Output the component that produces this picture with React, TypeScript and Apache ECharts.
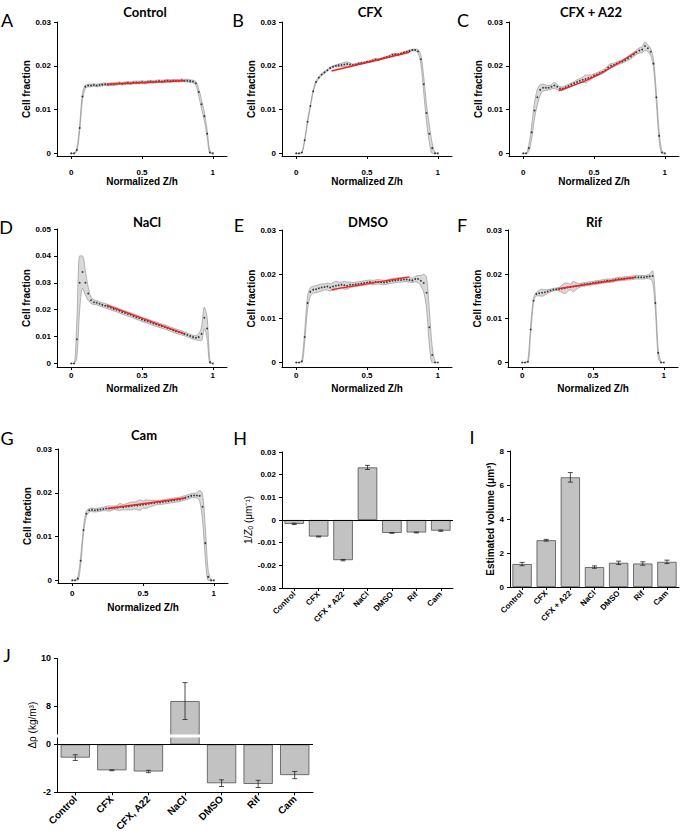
import React, { useEffect, useRef } from 'react';
import * as echarts from 'echarts';

// ---------- data ----------
const zPos = [
  0, 0.02, 0.04, 0.06, 0.08, 0.1, 0.12, 0.14, 0.16, 0.18,
  0.2, 0.22, 0.24, 0.26, 0.28, 0.3, 0.32, 0.34, 0.36, 0.38,
  0.4, 0.42, 0.44, 0.46, 0.48, 0.5, 0.52, 0.54, 0.56, 0.58,
  0.6, 0.62, 0.64, 0.66, 0.68, 0.7, 0.72, 0.74, 0.76, 0.78,
  0.8, 0.82, 0.84, 0.86, 0.88, 0.9, 0.92, 0.94, 0.96, 0.98,
  1,
];

const controlMean = [
  0, 0, 0.0008, 0.0058, 0.013, 0.0152, 0.0155, 0.0155, 0.0156, 0.0155,
  0.0156, 0.0157, 0.0158, 0.0157, 0.0158, 0.0158, 0.0159, 0.016, 0.0159, 0.016,
  0.0161, 0.016, 0.0162, 0.0162, 0.0162, 0.0163, 0.0162, 0.0163, 0.0164, 0.0163,
  0.0164, 0.0165, 0.0164, 0.0165, 0.0166, 0.0165, 0.0166, 0.0166, 0.0166, 0.0167,
  0.0166, 0.0166, 0.0165, 0.0164, 0.016, 0.014, 0.0112, 0.0085, 0.0045, 0.0002,
  0,
];
const controlSpread = [
  0, 0, 0.0004, 0.0008, 0.0008, 0.0004, 0.0003, 0.0003, 0.0003, 0.0003,
  0.0003, 0.0003, 0.0003, 0.0003, 0.0003, 0.0003, 0.0003, 0.0003, 0.0003, 0.0003,
  0.0003, 0.0003, 0.0003, 0.0003, 0.0003, 0.0003, 0.0003, 0.0003, 0.0003, 0.0003,
  0.0003, 0.0003, 0.0003, 0.0003, 0.0003, 0.0003, 0.0003, 0.0003, 0.0003, 0.0003,
  0.0003, 0.0003, 0.0003, 0.0003, 0.0004, 0.0008, 0.001, 0.001, 0.0008, 0.0002,
  0,
];
const controlFit = [[0.25, 0.0158], [0.8, 0.0166]];

const cfxMean = [
  0, 0, 0.0002, 0.003, 0.0072, 0.0108, 0.0142, 0.0163, 0.0173, 0.018,
  0.0185, 0.019, 0.0195, 0.0198, 0.02, 0.0201, 0.0202, 0.0203, 0.0204, 0.0203,
  0.0202, 0.0203, 0.0205, 0.0206, 0.0207, 0.0209, 0.021, 0.0212, 0.0214, 0.0214,
  0.0216, 0.0218, 0.022, 0.0222, 0.0225, 0.0226, 0.0226, 0.0228, 0.023, 0.0232,
  0.0234, 0.0236, 0.0236, 0.0233, 0.0215, 0.0158, 0.0092, 0.0045, 0.0012, 0,
  0,
];
const cfxSpread = [
  0, 0, 0.0001, 0.0003, 0.0004, 0.0004, 0.0003, 0.0003, 0.0002, 0.0002,
  0.0002, 0.0002, 0.0002, 0.0002, 0.0002, 0.0003, 0.0004, 0.0005, 0.0005, 0.0004,
  0.0002, 0.0002, 0.0002, 0.0002, 0.0002, 0.0002, 0.0002, 0.0003, 0.0003, 0.0002,
  0.0002, 0.0002, 0.0002, 0.0002, 0.0003, 0.0002, 0.0002, 0.0002, 0.0002, 0.0002,
  0.0002, 0.0002, 0.0002, 0.0004, 0.001, 0.0018, 0.002, 0.002, 0.0012, 0.0002,
  0,
];
const cfxFit = [[0.25, 0.0188], [0.8, 0.0231]];

const cfxA22Mean = [
  0, 0, 0.0012, 0.0048, 0.0098, 0.0128, 0.0145, 0.015, 0.015, 0.015,
  0.0152, 0.0155, 0.0152, 0.0148, 0.0148, 0.0151, 0.0154, 0.0157, 0.016, 0.0163,
  0.0166, 0.0168, 0.017, 0.0172, 0.0174, 0.0178, 0.018, 0.0183, 0.0186, 0.019,
  0.0196, 0.02, 0.0202, 0.0205, 0.0208, 0.021, 0.0213, 0.0217, 0.0221, 0.0226,
  0.0231, 0.0235, 0.0237, 0.0245, 0.024, 0.0232, 0.0205, 0.0128, 0.004, 0.0002,
  0,
];
const cfxA22Spread = [
  0, 0, 0.0008, 0.0015, 0.0018, 0.0018, 0.0012, 0.0008, 0.0006, 0.0005,
  0.0005, 0.0007, 0.0006, 0.0004, 0.0004, 0.0004, 0.0004, 0.0004, 0.0004, 0.0005,
  0.0005, 0.0006, 0.0009, 0.0007, 0.0005, 0.0004, 0.0004, 0.0004, 0.0004, 0.0004,
  0.0005, 0.0005, 0.0004, 0.0004, 0.0004, 0.0004, 0.0004, 0.0005, 0.0005, 0.0005,
  0.0005, 0.0006, 0.0007, 0.001, 0.0008, 0.0008, 0.001, 0.0012, 0.001, 0.0003,
  0,
];
const cfxA22Fit = [[0.25, 0.0143], [0.4, 0.0161], [0.55, 0.0183], [0.8, 0.0232]];

const naclMean = [
  0, 0, 0.009, 0.03, 0.034, 0.03, 0.026, 0.0235, 0.0228, 0.0226,
  0.0222, 0.0218, 0.0215, 0.0211, 0.0207, 0.0203, 0.02, 0.0196, 0.0191, 0.0188,
  0.0184, 0.0181, 0.0176, 0.0172, 0.0169, 0.0164, 0.016, 0.0157, 0.0153, 0.0149,
  0.0146, 0.0142, 0.0139, 0.0136, 0.0132, 0.0128, 0.0124, 0.012, 0.0117, 0.0114,
  0.011, 0.0106, 0.0102, 0.0098, 0.0096, 0.0098, 0.011, 0.017, 0.013, 0.0005,
  0,
];
const naclSpread = [
  0, 0, 0.007, 0.01, 0.006, 0.0045, 0.0025, 0.0012, 0.0009, 0.0008,
  0.0008, 0.0008, 0.0008, 0.0008, 0.0008, 0.0008, 0.0008, 0.0008, 0.0008, 0.0008,
  0.0008, 0.0008, 0.0008, 0.0008, 0.0008, 0.0008, 0.0008, 0.0008, 0.0008, 0.0008,
  0.0008, 0.0008, 0.0008, 0.0008, 0.0008, 0.0008, 0.0008, 0.0008, 0.0008, 0.0008,
  0.0007, 0.0007, 0.0007, 0.0007, 0.0008, 0.0012, 0.0025, 0.004, 0.004, 0.0005,
  0,
];
const naclFit = [[0.25, 0.0217], [0.8, 0.011]];

const dmsoMean = [
  0, 0, 0.0003, 0.0058, 0.0135, 0.016, 0.0165, 0.0166, 0.0168, 0.017,
  0.0171, 0.0172, 0.017, 0.0172, 0.0174, 0.0175, 0.0176, 0.0175, 0.0174, 0.0176,
  0.0176, 0.0177, 0.0178, 0.0179, 0.018, 0.0181, 0.0182, 0.0181, 0.0182, 0.0183,
  0.0182, 0.0181, 0.0182, 0.0184, 0.0185, 0.0186, 0.0187, 0.0187, 0.0188, 0.0188,
  0.0187, 0.0186, 0.0189, 0.0189, 0.0185, 0.018, 0.0158, 0.008, 0.0017, 0,
  0,
];
const dmsoSpread = [
  0, 0, 0.0003, 0.0012, 0.0015, 0.001, 0.0008, 0.0008, 0.0008, 0.0008,
  0.0007, 0.0008, 0.0008, 0.0009, 0.001, 0.0007, 0.0006, 0.0009, 0.0008, 0.0006,
  0.0005, 0.0005, 0.0005, 0.0005, 0.0005, 0.0005, 0.0005, 0.0005, 0.0005, 0.0005,
  0.0005, 0.0005, 0.0005, 0.0005, 0.0005, 0.0005, 0.0005, 0.0005, 0.0005, 0.0005,
  0.0005, 0.0005, 0.0006, 0.0008, 0.0012, 0.002, 0.0035, 0.004, 0.002, 0.0003,
  0,
];
const dmsoFit = [[0.25, 0.0165], [0.8, 0.0194]];

const rifMean = [
  0, 0, 0.0002, 0.0075, 0.014, 0.0155, 0.0157, 0.0158, 0.0159, 0.0161,
  0.0163, 0.0165, 0.0166, 0.0166, 0.0167, 0.0168, 0.017, 0.0171, 0.0172, 0.0173,
  0.0174, 0.0176, 0.0177, 0.0178, 0.0179, 0.018, 0.0181, 0.0182, 0.0183, 0.0184,
  0.0185, 0.0185, 0.0186, 0.0188, 0.0189, 0.0189, 0.019, 0.0191, 0.0191, 0.0192,
  0.0193, 0.0193, 0.0193, 0.0193, 0.0194, 0.0195, 0.0196, 0.0135, 0.0022, 0,
  0,
];
const rifSpread = [
  0, 0, 0.0003, 0.001, 0.0006, 0.0004, 0.0006, 0.0008, 0.0006, 0.0004,
  0.0003, 0.0003, 0.0003, 0.0004, 0.0008, 0.0012, 0.001, 0.0006, 0.0012, 0.0008,
  0.0005, 0.0004, 0.0004, 0.0004, 0.0004, 0.0004, 0.0004, 0.0004, 0.0004, 0.0004,
  0.0004, 0.0004, 0.0004, 0.0004, 0.0004, 0.0004, 0.0004, 0.0004, 0.0004, 0.0004,
  0.0004, 0.0004, 0.0004, 0.0004, 0.0004, 0.0006, 0.0012, 0.0015, 0.001, 0.0002,
  0,
];
const rifFit = [[0.25, 0.0167], [0.8, 0.0193]];

const camMean = [
  0, 0, 0.0004, 0.0045, 0.0115, 0.0152, 0.016, 0.0161, 0.016, 0.0161,
  0.0162, 0.0163, 0.0164, 0.0164, 0.0165, 0.0166, 0.0166, 0.0168, 0.0167, 0.0168,
  0.0169, 0.017, 0.0171, 0.0171, 0.0172, 0.0173, 0.0174, 0.0175, 0.0176, 0.0177,
  0.0178, 0.0178, 0.0179, 0.018, 0.0181, 0.0182, 0.0183, 0.0184, 0.0185, 0.0187,
  0.0189, 0.0191, 0.0193, 0.0194, 0.0194, 0.0193, 0.0168, 0.0085, 0.0008, 0,
  0,
];
const camSpread = [
  0, 0, 0.0004, 0.001, 0.0008, 0.0006, 0.0004, 0.0004, 0.0004, 0.0004,
  0.0004, 0.0004, 0.0005, 0.0006, 0.0005, 0.0004, 0.0006, 0.0008, 0.0006, 0.0007,
  0.0008, 0.0009, 0.0008, 0.001, 0.0012, 0.0008, 0.001, 0.0008, 0.0007, 0.0006,
  0.0005, 0.0005, 0.0005, 0.0005, 0.0005, 0.0005, 0.0005, 0.0005, 0.0005, 0.0005,
  0.0005, 0.0005, 0.0005, 0.0005, 0.0006, 0.0012, 0.003, 0.0035, 0.0015, 0.0002,
  0,
];
const camFit = [[0.25, 0.0164], [0.8, 0.0188]];

const profileTitles = ['Control', 'CFX', 'CFX + A22', 'NaCl', 'DMSO', 'Rif', 'Cam'];
const profileLetters = ['A', 'B', 'C', 'D', 'E', 'F', 'G'];
const profileYTicks = [0, 0.01, 0.02, 0.03];
const naclYTicks = [0, 0.01, 0.02, 0.03, 0.04, 0.05];
const profileXTicks = [0, 0.5, 1];

const barCategories = ['Control', 'CFX', 'CFX + A22', 'NaCl', 'DMSO', 'Rif', 'Cam'];
const rhoCategories = ['Control', 'CFX', 'CFX, A22', 'NaCl', 'DMSO', 'Rif', 'Cam'];
const invZ0Values = [-0.0017, -0.0073, -0.0177, 0.0232, -0.0057, -0.0055, -0.0047];
const invZ0Errors = [0.0003, 0.0002, 0.0003, 0.0009, 0.0002, 0.0002, 0.0003];
const volumeValues = [1.35, 2.75, 6.45, 1.17, 1.42, 1.38, 1.48];
const volumeErrors = [0.1, 0.05, 0.28, 0.07, 0.1, 0.1, 0.1];
const rhoValues = [-0.55, -1.08, -1.13, 8.2, -1.62, -1.65, -1.28];
const rhoErrors = [0.12, 0.02, 0.05, 0.77, 0.14, 0.15, 0.15];
const rhoTicks = [-2, 0, 8, 10];

// ---------- layout ----------
const profileLayouts = [
  { grid: { left: 57, top: 22, width: 170, height: 134 }, yMin: -0.0006, yMax: 0.03, labelMargin: 12, nameGap: 20, title: [145, 12], letter: [7, 20] },
  { grid: { left: 282, top: 22, width: 170, height: 134 }, yMin: -0.0006, yMax: 0.03, labelMargin: 12, nameGap: 20, title: [370, 12], letter: [238, 20] },
  { grid: { left: 509, top: 22, width: 170, height: 134 }, yMin: -0.0006, yMax: 0.03, labelMargin: 12, nameGap: 20, title: [591, 12], letter: [463, 20] },
  { grid: { left: 57, top: 229, width: 170, height: 138 }, yMin: -0.0013, yMax: 0.05, labelMargin: 4, nameGap: 16, title: [147, 222], letter: [6, 227] },
  { grid: { left: 282, top: 230, width: 170, height: 137 }, yMin: -0.001, yMax: 0.03, labelMargin: 4, nameGap: 16, title: [368, 222], letter: [239, 225] },
  { grid: { left: 508, top: 230, width: 170, height: 137 }, yMin: -0.001, yMax: 0.03, labelMargin: 4, nameGap: 16, title: [594, 222], letter: [462, 225] },
  { grid: { left: 58, top: 449, width: 170, height: 134 }, yMin: -0.0006, yMax: 0.03, labelMargin: 6, nameGap: 19, title: [144, 435], letter: [7, 438] },
];
const barGridH = { left: 282, top: 452, width: 171, height: 136 };
const barGridI = { left: 510, top: 451, width: 169, height: 136 };
const barGridJ = { left: 57, top: 658, width: 256, height: 136 };

const SANS = 'Liberation Sans, Arial, sans-serif';
const TITLE_FONT = 'Lato, Carlito, sans-serif';

const tickLabel = { color: '#000', fontSize: 8, fontWeight: 'bold', fontFamily: SANS };
const axisLineStyle = { show: true, onZero: false, lineStyle: { color: '#000', width: 1 } };
const fmt = (v: number) => (v === 0 ? '0' : String(parseFloat(v.toFixed(4))));

function errorRenderer(_params: any, api: any) {
  const k = api.value(0);
  const lo = api.coord([k, api.value(1)]);
  const hi = api.coord([k, api.value(2)]);
  const cap = 2.5;
  const style = { stroke: '#222', lineWidth: 0.8 };
  return {
    type: 'group',
    children: [
      { type: 'line', shape: { x1: lo[0], y1: lo[1], x2: hi[0], y2: hi[1] }, style },
      { type: 'line', shape: { x1: lo[0] - cap, y1: lo[1], x2: lo[0] + cap, y2: lo[1] }, style },
      { type: 'line', shape: { x1: hi[0] - cap, y1: hi[1], x2: hi[0] + cap, y2: hi[1] }, style },
    ],
  };
}

function buildOption() {
  const profiles = [
    { mean: controlMean, spread: controlSpread, fit: controlFit },
    { mean: cfxMean, spread: cfxSpread, fit: cfxFit },
    { mean: cfxA22Mean, spread: cfxA22Spread, fit: cfxA22Fit },
    { mean: naclMean, spread: naclSpread, fit: naclFit },
    { mean: dmsoMean, spread: dmsoSpread, fit: dmsoFit },
    { mean: rifMean, spread: rifSpread, fit: rifFit },
    { mean: camMean, spread: camSpread, fit: camFit },
  ];
  const grid: any[] = [];
  const xAxis: any[] = [];
  const yAxis: any[] = [];
  const series: any[] = [];
  const graphic: any[] = [];

  profiles.forEach((p, i) => {
    const L = profileLayouts[i];
    grid.push({ ...L.grid, containLabel: false });
    xAxis.push({
      type: 'value', gridIndex: i, min: -0.1, max: 1.1, z: 5,
      axisLine: axisLineStyle,
      axisTick: { show: true, customValues: profileXTicks, length: 3, lineStyle: { color: '#000' } },
      axisLabel: { ...tickLabel, customValues: profileXTicks, formatter: fmt, margin: L.labelMargin },
      splitLine: { show: false },
      name: 'Normalized Z/h', nameLocation: 'middle', nameGap: L.nameGap,
      nameTextStyle: { color: '#000', fontSize: 10, fontWeight: 'bold', fontFamily: SANS },
    });
    const yt = i === 3 ? naclYTicks : profileYTicks;
    yAxis.push({
      type: 'value', gridIndex: i, min: L.yMin, max: L.yMax, z: 5,
      axisLine: axisLineStyle,
      axisTick: { show: true, customValues: yt, length: 3, lineStyle: { color: '#000' } },
      axisLabel: { ...tickLabel, customValues: yt, formatter: fmt, margin: 6 },
      splitLine: { show: false },
      name: 'Cell fraction', nameLocation: 'middle', nameGap: 24,
      nameTextStyle: { color: '#000', fontSize: 10, fontWeight: 'bold', fontFamily: SANS },
    });
    const lower = p.mean.map((m, k) => Math.max(0, m - p.spread[k]));
    const upper = p.mean.map((m, k) => m + p.spread[k]);
    const common = { xAxisIndex: i, yAxisIndex: i, silent: true };
    // upper edge filled grey down to zero, lower edge filled white down to zero -> grey band between
    series.push({
      ...common, type: 'line', smooth: 0.3, symbol: 'none', z: 1,
      data: zPos.map((z, k) => [z, upper[k]]),
      lineStyle: { color: '#8a8a8a', width: 0.6 },
      areaStyle: { color: '#d9d9d9', opacity: 1, origin: 0 },
    });
    series.push({
      ...common, type: 'line', smooth: 0.3, symbol: 'none', z: 1,
      data: zPos.map((z, k) => [z, lower[k]]),
      lineStyle: { color: '#8a8a8a', width: 0.6 },
      areaStyle: { color: '#ffffff', opacity: 1, origin: 0 },
    });
    series.push({
      ...common, type: 'scatter', symbolSize: 1.8, z: 3,
      data: zPos.map((z, k) => [z, p.mean[k]]),
      itemStyle: { color: '#111' },
    });
    series.push({
      ...common, type: 'line', symbol: 'none', smooth: true, z: 4,
      data: p.fit, lineStyle: { color: '#ff1a1a', width: 1.4 },
    });
    graphic.push({
      type: 'text', x: L.title[0], y: L.title[1],
      style: { text: profileTitles[i], align: 'center', verticalAlign: 'middle', fontSize: 13, fontWeight: 'bold', fontFamily: TITLE_FONT, fill: '#000' },
    });
    graphic.push({
      type: 'text', x: L.letter[0], y: L.letter[1],
      style: { text: profileLetters[i], align: 'center', verticalAlign: 'middle', fontSize: 18, fontFamily: TITLE_FONT, fill: '#000' },
    });
  });

  // bar panels
  const barPanels = [
    {
      grid: barGridH, cats: barCategories, values: invZ0Values, errors: invZ0Errors, catFont: 8,
      y: { min: -0.03, max: 0.03, interval: 0.01 },
      name: '1/{i|Z}{sub|0} (μm⁻¹)', nameBold: 'normal', nameGap: 24, zeroLine: true,
    },
    {
      grid: barGridI, cats: barCategories, values: volumeValues, errors: volumeErrors, catFont: 8,
      y: { min: 0, max: 8, interval: 2 },
      name: 'Estimated volume (μm³)', nameBold: 'bold', nameGap: 14, zeroLine: false,
    },
    {
      grid: barGridJ, cats: rhoCategories, values: rhoValues, errors: rhoErrors, catFont: 10,
      y: {
        min: -2, max: 10,
        breaks: [{ start: 0.3, end: 6.8, gap: '2%' }],
        breakArea: {
          show: true, expandOnClick: false, zigzagAmplitude: 0, zigzagZ: 100,
          itemStyle: { color: '#fff', borderColor: '#fff', borderWidth: 0, opacity: 1 },
        },
        axisLabel: { ...tickLabel, fontSize: 9, customValues: rhoTicks, formatter: fmt, margin: 6 },
        axisTick: { show: true, customValues: rhoTicks, length: 3, lineStyle: { color: '#000' } },
      },
      name: 'Δρ (kg/m³)', nameBold: 'normal', nameGap: 20, zeroLine: true,
    },
  ];

  barPanels.forEach((b, j) => {
    const gi = 7 + j;
    grid.push({ ...b.grid, containLabel: false });
    xAxis.push({
      type: 'category', gridIndex: gi, data: b.cats, position: 'bottom',
      axisLine: axisLineStyle,
      axisTick: { show: true, alignWithLabel: true, length: 3, lineStyle: { color: '#000' } },
      axisLabel: { ...tickLabel, fontSize: b.catFont, rotate: 45, margin: 5, interval: 0 },
      splitLine: { show: false },
    });
    yAxis.push({
      type: 'value', gridIndex: gi,
      axisLine: axisLineStyle,
      axisTick: { show: true, length: 3, lineStyle: { color: '#000' } },
      axisLabel: { ...tickLabel, formatter: fmt, margin: 6 },
      splitLine: { show: false },
      name: b.name, nameLocation: 'middle', nameGap: b.nameGap,
      nameTextStyle: {
        color: '#000', fontSize: 10, fontWeight: b.nameBold, fontFamily: SANS,
        rich: {
          i: { fontStyle: 'italic', fontSize: 10, fontFamily: SANS, color: '#000' },
          sub: { fontSize: 7, fontFamily: SANS, color: '#000', verticalAlign: 'bottom', padding: [4, 0, 0, 0] },
        },
      },
      ...b.y,
    });
    series.push({
      type: 'bar', xAxisIndex: gi, yAxisIndex: gi, data: b.values, barWidth: '80%', silent: true,
      itemStyle: { color: '#c2c2c2', borderColor: '#505050', borderWidth: 0.8 },
      markLine: b.zeroLine
        ? { silent: true, symbol: 'none', label: { show: false }, lineStyle: { color: '#000', width: 1, type: 'solid' }, data: [{ yAxis: 0 }] }
        : undefined,
    });
    series.push({
      type: 'custom', xAxisIndex: gi, yAxisIndex: gi, silent: true, z: 5,
      data: b.values.map((v, k) => [k, v - b.errors[k], v + b.errors[k]]),
      encode: { x: 0, y: [1, 2] },
      renderItem: errorRenderer,
    });
  });

  graphic.push(
    { type: 'text', x: 240, y: 438, style: { text: 'H', align: 'center', verticalAlign: 'middle', fontSize: 18, fontFamily: TITLE_FONT, fill: '#000' } },
    { type: 'text', x: 472, y: 437, style: { text: 'I', align: 'center', verticalAlign: 'middle', fontSize: 18, fontFamily: TITLE_FONT, fill: '#000' } },
    { type: 'text', x: 7, y: 655, style: { text: 'J', align: 'center', verticalAlign: 'middle', fontSize: 18, fontFamily: TITLE_FONT, fill: '#000' } },
  );

  return {
    animation: false,
    backgroundColor: '#fff',
    grid, xAxis, yAxis, series, graphic,
  };
}

export default function App() {
  const ref = useRef<HTMLDivElement>(null);
  useEffect(() => {
    if (!ref.current) return;
    const chart = echarts.init(ref.current, null, { renderer: 'svg' });
    chart.setOption(buildOption() as any);
    return () => chart.dispose();
  }, []);
  return (
    <div
      ref={ref}
      style={{ position: 'absolute', left: 0, top: 0, width: 680, height: 834, background: '#fff' }}
    />
  );
}
